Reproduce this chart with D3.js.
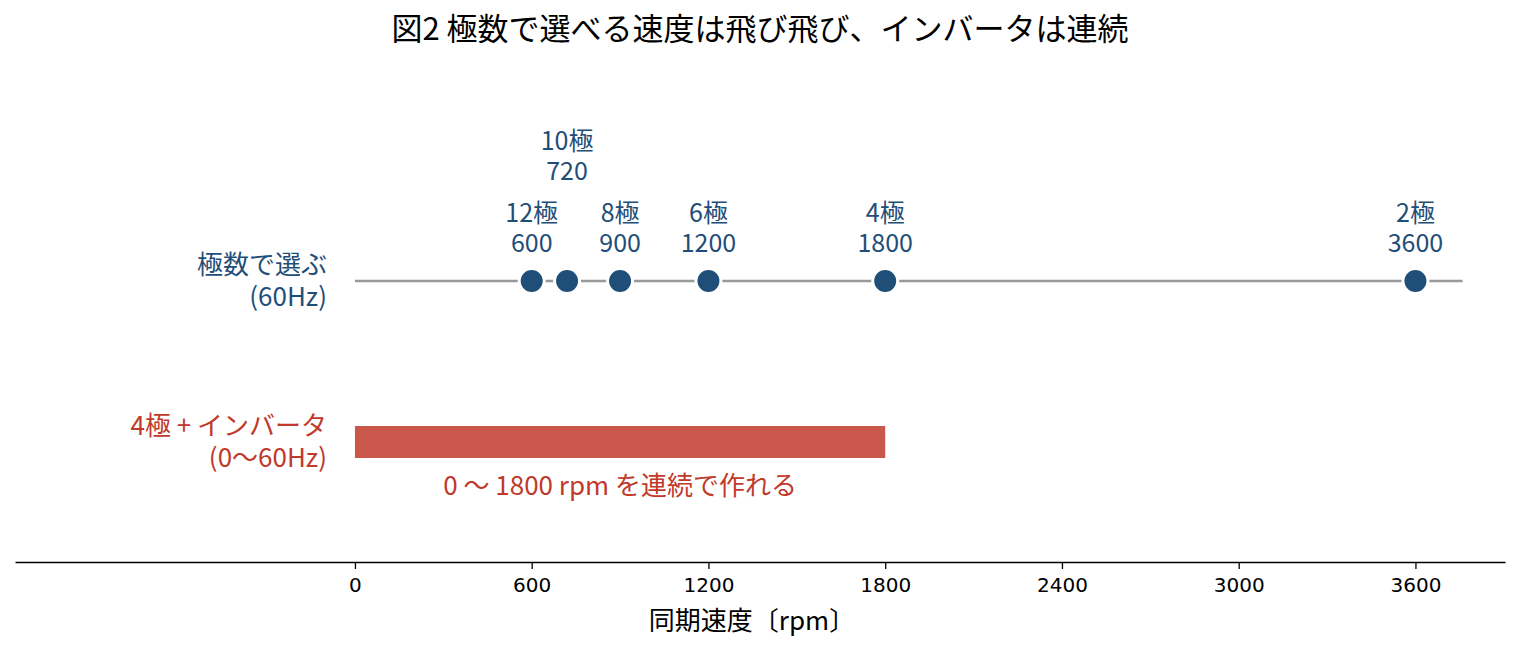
<!DOCTYPE html>
<html>
<head>
<meta charset="utf-8">
<script src="https://cdn.jsdelivr.net/npm/d3@7"></script>
<style>
  body { margin: 0; background: #fff; }
  text { font-family: "Noto Sans CJK JP", "Noto Sans", sans-serif; }
  .tick text { font-family: "DejaVu Sans", sans-serif; }
</style>
</head>
<body>
<svg id="chart" width="1520" height="651"></svg>
<script>
// data
const poles = ["12極", "10極", "8極", "6極", "4極", "2極"];
const speeds = [600, 720, 900, 1200, 1800, 3600];
const raised = [false, true, false, false, false, false]; // 10極 label sits higher
const lineRange = [0, 3760];
const inverterRange = [0, 1800];
const tickValues = [0, 600, 1200, 1800, 2400, 3000, 3600];
const rowLabels = [["極数で選ぶ", "(60Hz)"], ["4極 + インバータ", "(0〜60Hz)"]];
const rangeNote = "0 〜 1800 rpm を連続で作れる";

const blue = "#1f4e79", red = "#c0392b", barColor = "#c9574b", gray = "#999999";

const svg = d3.select("#chart");
const x = d3.scaleLinear().domain([-1154, 3904]).range([15, 1505]);
const y = d3.scalePoint().domain(["select", "inverter"]).range([281, 442]);
const axisY = 562;

// title
svg.append("text")
  .attr("x", 760).attr("y", 40)
  .attr("text-anchor", "middle")
  .attr("font-size", 31)
  .text("図2 極数で選べる速度は飛び飛び、インバータは連続");

// pole-selection row
svg.append("line")
  .attr("x1", x(lineRange[0])).attr("x2", x(lineRange[1]))
  .attr("y1", y("select")).attr("y2", y("select"))
  .attr("stroke", gray).attr("stroke-width", 2.5);

svg.selectAll("circle.pole")
  .data(speeds)
  .enter()
  .append("circle")
  .attr("class", "pole")
  .attr("cx", (d) => x(d))
  .attr("cy", y("select"))
  .attr("r", 12.5)
  .attr("fill", blue)
  .attr("stroke", "#fff")
  .attr("stroke-width", 3);

// pole name and speed, two lines above each point
svg.selectAll("text.pole-name")
  .data(speeds)
  .enter()
  .append("text")
  .attr("class", "pole-name")
  .attr("x", (d) => x(d))
  .attr("y", (d, i) => y("select") - (raised[i] ? 131 : 59))
  .attr("text-anchor", "middle")
  .attr("fill", blue)
  .attr("font-size", 25)
  .text((d, i) => poles[i]);

svg.selectAll("text.pole-speed")
  .data(speeds)
  .enter()
  .append("text")
  .attr("class", "pole-speed")
  .attr("x", (d) => x(d))
  .attr("y", (d, i) => y("select") - (raised[i] ? 101 : 29))
  .attr("text-anchor", "middle")
  .attr("fill", blue)
  .attr("font-size", 25)
  .text((d) => d);

// inverter row
svg.append("rect")
  .attr("x", x(inverterRange[0]))
  .attr("width", x(inverterRange[1]) - x(inverterRange[0]))
  .attr("y", y("inverter") - 16)
  .attr("height", 32)
  .attr("fill", barColor);

svg.append("text")
  .attr("x", x((inverterRange[0] + inverterRange[1]) / 2))
  .attr("y", y("inverter") + 53)
  .attr("text-anchor", "middle")
  .attr("fill", red)
  .attr("font-size", 26)
  .text(rangeNote);

// row labels
const rowKeys = ["select", "inverter"];
const rowColors = [blue, red];
rowKeys.forEach((k, i) => {
  rowLabels[i].forEach((line, j) => {
    svg.append("text")
      .attr("x", 327)
      .attr("y", y(k) - 7 + j * 32)
      .attr("text-anchor", "end")
      .attr("fill", rowColors[i])
      .attr("font-size", 26)
      .text(line);
  });
});

// x axis
const xAxis = d3.axisBottom(x)
  .tickValues(tickValues)
  .tickFormat(d3.format("d"))
  .tickSize(7)
  .tickSizeOuter(0)
  .tickPadding(9);
const gx = svg.append("g")
  .attr("transform", `translate(0, ${axisY})`)
  .call(xAxis);
gx.select(".domain").attr("stroke", "#000").attr("stroke-width", 1.5);
gx.selectAll(".tick line").attr("stroke", "#000").attr("stroke-width", 1.3);
gx.selectAll(".tick text").attr("font-size", 20).attr("fill", "#000");

svg.append("text")
  .attr("x", 752).attr("y", 630)
  .attr("text-anchor", "middle")
  .attr("font-size", 26)
  .text("同期速度〔rpm〕");
</script>
</body>
</html>
